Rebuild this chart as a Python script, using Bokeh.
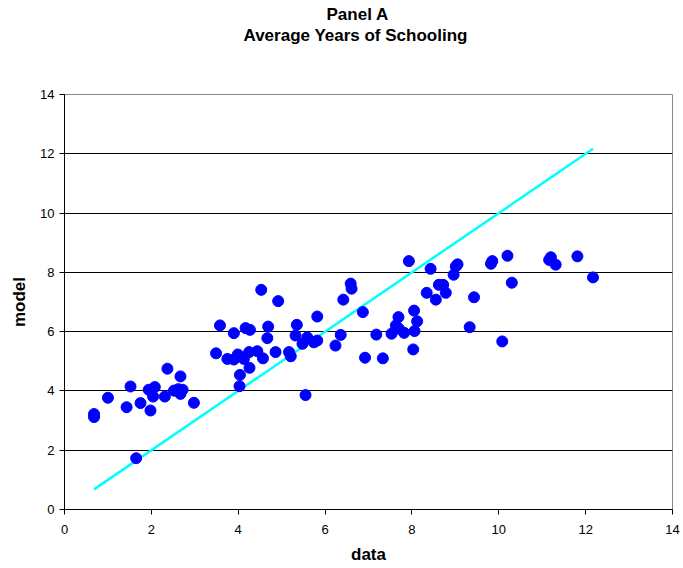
from bokeh.embed import file_html
from bokeh.models import ColumnDataSource, FixedTicker, Range1d, Title
from bokeh.plotting import figure
from bokeh.resources import INLINE

# data (x = observed years of schooling, y = model prediction)
data_x = [0.68, 0.68, 1.0, 1.52, 1.43, 1.65, 1.75, 1.98, 1.94, 2.08, 2.04, 2.31,
          2.37, 2.67, 2.52, 2.62, 2.72, 2.67, 2.98,
          3.49, 3.58, 3.75, 3.9, 3.9, 3.99, 4.03, 4.04, 4.13, 4.17, 4.25, 4.26,
          4.27, 4.44, 4.53, 4.57, 4.67, 4.69, 4.86, 4.92, 5.17, 5.21, 5.32, 5.35,
          5.48, 5.55, 5.59, 5.74, 5.82, 5.82, 6.24, 6.36, 6.42, 6.59, 6.61, 6.87,
          6.92, 7.18, 7.33, 7.53, 7.63, 7.69, 7.7, 7.82, 7.93, 8.03, 8.05, 8.06,
          8.12, 8.34, 8.43, 8.55, 8.62, 8.72, 8.78, 8.96, 9.01, 9.05, 9.33, 9.43,
          9.82, 9.85, 10.08, 10.2, 10.3, 11.16, 11.2, 11.31, 11.81, 12.17]
model_y = [3.22, 3.12, 3.77, 4.15, 3.45, 1.73, 3.59, 3.34, 4.04, 4.13, 3.81, 3.81,
           4.75, 4.49, 4.01, 4.06, 4.04, 3.9, 3.6,
           5.27, 6.21, 5.08, 5.06, 5.95, 5.23, 4.16, 4.54, 5.08, 6.12, 5.31, 4.78,
           6.06, 5.34, 7.41, 5.1, 5.78, 6.17, 5.31, 7.03, 5.31, 5.17, 5.87, 6.23,
           5.59, 3.86, 5.81, 5.64, 5.70, 6.51, 5.53, 5.89, 7.08, 7.62, 7.45, 6.66,
           5.12, 5.9, 5.1, 5.93, 6.21, 6.49, 6.1, 5.96, 8.38, 5.4, 6.71, 6.02,
           6.35, 7.31, 8.12, 7.08, 7.58, 7.58, 7.31, 7.92, 8.2, 8.27, 6.15, 7.16,
           8.29, 8.38, 5.67, 8.56, 7.65, 8.42, 8.51, 8.26, 8.54, 7.83]

# 45-degree line over the range of the data
line_x = [min(data_x), max(data_x)]
line_y = [min(data_x), max(data_x)]

ticks = [0, 2, 4, 6, 8, 10, 12, 14]
grid_ticks = [2, 4, 6, 8, 10, 12]

FONT = "Liberation Sans"

p = figure(width=683, height=568, output_backend="svg", toolbar_location=None,
           x_range=Range1d(0, 14), y_range=Range1d(0, 14), title=None,
           min_border_left=64, min_border_right=11, min_border_top=94,
           min_border_bottom=59)

# titles stack outward from the plot; a blank one keeps the gap above the frame
p.add_layout(Title(text=" ", text_font=FONT, text_font_size="17px",
                   standoff=29), "above")
p.add_layout(Title(text="Average Years of Schooling", align="left",
                   text_font=FONT, text_font_size="17px", text_color="black",
                   text_font_style="bold", offset=179, standoff=0), "above")
p.add_layout(Title(text="Panel A", align="left", text_font=FONT,
                   text_color="black", text_font_size="17px",
                   text_font_style="bold", offset=262, standoff=0), "above")

p.line(line_x, line_y, line_color="#00FFFF", line_width=2.5)
src = ColumnDataSource(data=dict(x=data_x, y=model_y))
p.scatter("x", "y", source=src, size=11, fill_color="#0000FF",
          line_color="#0000FF")

p.outline_line_color = "#888888"
p.xgrid.grid_line_color = None
p.ygrid.ticker = FixedTicker(ticks=grid_ticks)
p.ygrid.grid_line_color = "black"
p.ygrid.grid_line_width = 1

for ax in (p.xaxis, p.yaxis):
    ax.ticker = FixedTicker(ticks=ticks)
    ax.minor_tick_line_color = None
    ax.major_tick_in = 0
    ax.major_tick_out = 5
    ax.major_tick_line_color = "black"
    ax.axis_line_color = "black"
    ax.major_label_text_color = "black"
    ax.major_label_text_font = FONT
    ax.major_label_text_font_size = "13px"
    ax.axis_label_text_color = "black"
    ax.axis_label_text_font = FONT
    ax.axis_label_text_font_size = "17px"
    ax.axis_label_text_font_style = "bold"

p.xaxis.axis_label = "data"
p.xaxis.major_label_standoff = 10
p.xaxis.axis_label_standoff = 8
p.yaxis.axis_label = "model"
p.yaxis.major_label_standoff = 5
p.yaxis.axis_label_standoff = 8

open("out.html", "w").write(file_html(p, INLINE))
